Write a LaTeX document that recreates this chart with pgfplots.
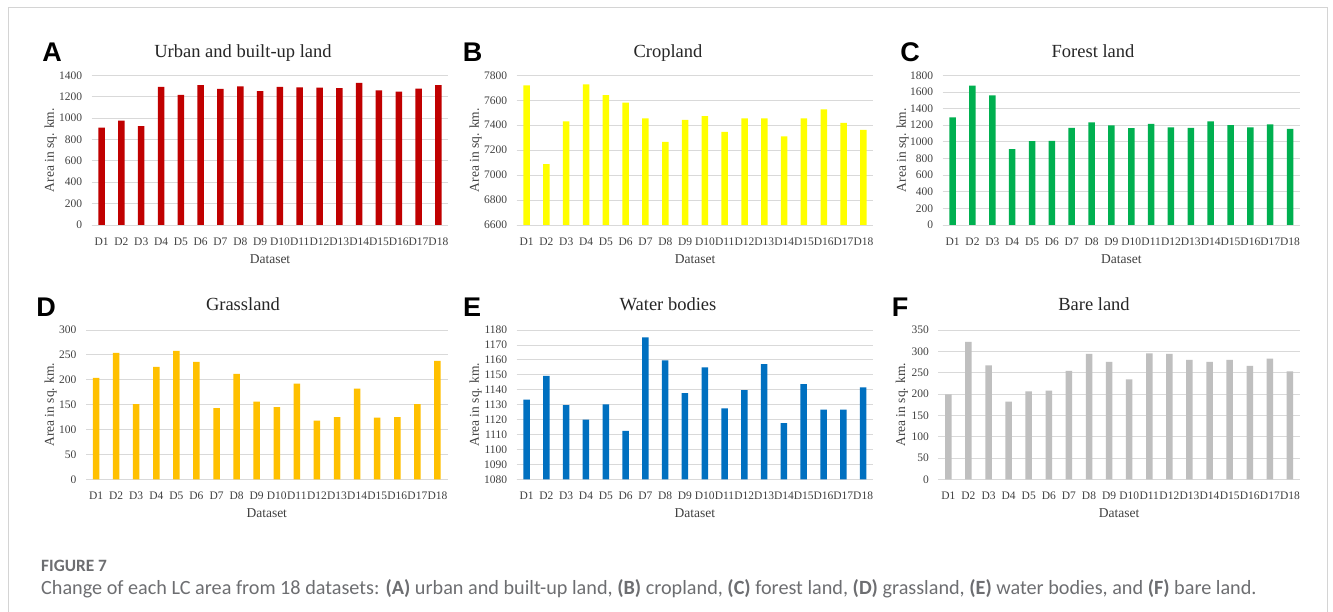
\documentclass[border=0pt]{standalone}
\usepackage{fontspec}
\setmainfont{Liberation Serif}
\newfontfamily\letterfont{Liberation Sans}
\newfontfamily\capfont{Carlito}
\usepackage{pgfplots}
\pgfplotsset{compat=1.18}

\definecolor{urbanc}{HTML}{C00000}
\definecolor{cropc}{HTML}{FFFF00}
\definecolor{forestc}{HTML}{00B050}
\definecolor{grassc}{HTML}{FFC000}
\definecolor{waterc}{HTML}{0070C0}
\definecolor{barec}{HTML}{BFBFBF}
\definecolor{gridc}{HTML}{D9D9D9}
\definecolor{tickc}{HTML}{404040}
\definecolor{titlec}{HTML}{262626}
\definecolor{capc}{HTML}{6D6E71}
\definecolor{framec}{HTML}{D4D4D4}

\pgfplotsset{
  lcpanel/.style={
    scale only axis,
    anchor=south west,
    ybar, bar width=6.5pt,
    xmin=-0.5, xmax=17.5,
    xtick={0,...,17},
    xticklabels={D1,D2,D3,D4,D5,D6,D7,D8,D9,D10,D11,D12,D13,D14,D15,D16,D17,D18},
    axis x line*=bottom, axis y line*=left,
    y axis line style={draw=none},
    x axis line style={draw=gridc, line width=0.8pt},
    major tick length=0pt,
    ymajorgrids,
    grid style={draw=gridc, line width=0.8pt},
    tick label style={font=\fontsize{11.5}{13}\selectfont, text=tickc},
    xticklabel style={yshift=-9.5pt, inner xsep=0pt},
    yticklabel style={xshift=-6pt},
    /pgf/number format/assume math mode=true,
    /pgf/number format/1000 sep={},
    label style={font=\fontsize{13.5}{15}\selectfont, text=tickc},
    xlabel={Dataset},
    xlabel style={at={(axis description cs:0.5,-0.227)}, anchor=center},
    ylabel={Area in sq. km.},
  },
  panelbar/.style={draw=none, fill=#1},
}

\begin{document}
\begin{tikzpicture}
\useasboundingbox (0,0) rectangle (1333pt,-612pt);
\fill[white] (0,0) rectangle (1333pt,-612pt);
\draw[framec, line width=1pt] (8pt,-612pt) -- (8pt,-8pt) -- (1327pt,-8pt) -- (1327pt,-612pt);

% A: urban and built-up land
\begin{axis}[lcpanel, at={(91.7pt,-225pt)}, width=356.6pt, height=149.7pt,
  ymin=0, ymax=1400, ytick distance=200,
  ylabel style={at={(axis description cs:-0.115,0.5)}, anchor=center}]
\addplot[panelbar=urbanc] coordinates {(0,910) (1,975) (2,925) (3,1292) (4,1216) (5,1309) (6,1272) (7,1297) (8,1253) (9,1292) (10,1286) (11,1285) (12,1279) (13,1329) (14,1259) (15,1247) (16,1275) (17,1307)};
\end{axis}

% B: cropland
\begin{axis}[lcpanel, at={(516.7pt,-225pt)}, width=356.6pt, height=149.7pt,
  ymin=6600, ymax=7800, ytick distance=200,
  ylabel style={at={(axis description cs:-0.115,0.5)}, anchor=center}]
\addplot[panelbar=cropc] coordinates {(0,7720) (1,7088) (2,7430) (3,7728) (4,7642) (5,7580) (6,7454) (7,7267) (8,7443) (9,7473) (10,7347) (11,7454) (12,7454) (13,7310) (14,7454) (15,7527) (16,7419) (17,7363)};
\end{axis}

% C: forest land
\begin{axis}[lcpanel, at={(942.7pt,-225pt)}, width=357.3pt, height=149.7pt,
  ymin=0, ymax=1800, ytick distance=200,
  ylabel style={at={(axis description cs:-0.112,0.5)}, anchor=center}]
\addplot[panelbar=forestc] coordinates {(0,1294) (1,1675) (2,1559) (3,912) (4,1008) (5,1012) (6,1169) (7,1233) (8,1197) (9,1165) (10,1217) (11,1173) (12,1169) (13,1245) (14,1201) (15,1173) (16,1209) (17,1157)};
\end{axis}

% D: grassland
\begin{axis}[lcpanel, at={(86pt,-479.3pt)}, width=361.5pt, height=149.3pt,
  ymin=0, ymax=300, ytick distance=50,
  ylabel style={at={(axis description cs:-0.098,0.5)}, anchor=center}]
\addplot[panelbar=grassc] coordinates {(0,204) (1,254) (2,151) (3,226) (4,258) (5,236) (6,143) (7,212) (8,156) (9,145) (10,192) (11,118) (12,125) (13,182) (14,124) (15,125) (16,151) (17,238)};
\end{axis}

% E: water bodies
\begin{axis}[lcpanel, at={(516.7pt,-479.3pt)}, width=356.3pt, height=149.3pt,
  ymin=1080, ymax=1180, ytick distance=10,
  ylabel style={at={(axis description cs:-0.115,0.5)}, anchor=center}]
\addplot[panelbar=waterc] coordinates {(0,1133.3) (1,1149.2) (2,1129.6) (3,1120) (4,1130.2) (5,1112.4) (6,1175) (7,1159.7) (8,1137.8) (9,1155) (10,1127.5) (11,1139.8) (12,1157.2) (13,1117.7) (14,1143.8) (15,1126.7) (16,1126.7) (17,1141.6)};
\end{axis}

% F: bare land
\begin{axis}[lcpanel, at={(938.3pt,-479.3pt)}, width=361.7pt, height=149.3pt,
  ymin=0, ymax=350, ytick distance=50,
  ylabel style={at={(axis description cs:-0.101,0.5)}, anchor=center}]
\addplot[panelbar=barec] coordinates {(0,199) (1,322) (2,267) (3,182) (4,206) (5,208) (6,254) (7,294) (8,275) (9,234) (10,295) (11,294) (12,280) (13,275) (14,280) (15,266) (16,283) (17,253)};
\end{axis}

% panel titles
\begin{scope}[every node/.style={anchor=base, font=\fontsize{18.5}{20}\selectfont, text=titlec}]
\node at (243pt,-57.3pt) {Urban and built-up land};
\node at (668pt,-57.3pt) {Cropland};
\node at (1093pt,-57.3pt) {Forest land};
\node at (243pt,-310.5pt) {Grassland};
\node at (668pt,-310.5pt) {Water bodies};
\node at (1094pt,-310.5pt) {Bare land};
\end{scope}

% panel letters
\begin{scope}[every node/.style={anchor=base, font=\letterfont\bfseries\fontsize{27}{30}\selectfont, text=black}]
\node at (52pt,-61.5pt) {A};
\node at (472.5pt,-61.5pt) {B};
\node at (910pt,-61.5pt) {C};
\node at (46pt,-316.3pt) {D};
\node at (472pt,-316.5pt) {E};
\node at (900pt,-316.5pt) {F};
\end{scope}

% caption
\node[anchor=base west, inner sep=0pt, font=\capfont\bfseries\fontsize{17.3}{19}\selectfont, text=capc] at (41pt,-571pt) {FIGURE 7};
\node[anchor=base west, inner sep=0pt, font=\capfont\fontsize{20.2}{22}\selectfont, text=capc] at (41pt,-594pt) {Change of each LC area from 18 datasets: {\bfseries(A)} urban and built-up land, {\bfseries(B)} cropland, {\bfseries(C)} forest land, {\bfseries(D)} grassland, {\bfseries(E)} water bodies, and {\bfseries(F)} bare land.};
\end{tikzpicture}
\end{document}
